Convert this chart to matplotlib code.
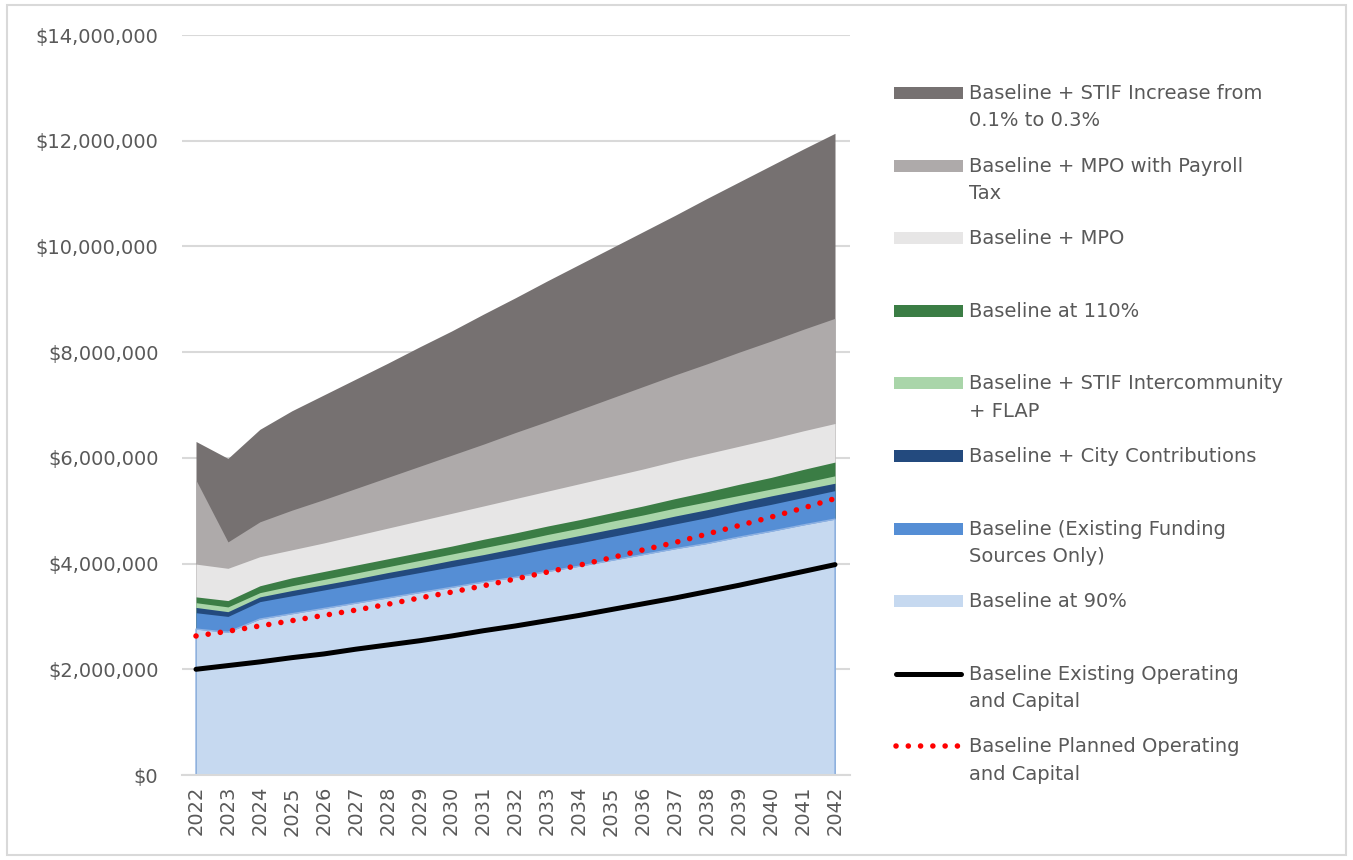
import numpy as np
import matplotlib.pyplot as plt
from matplotlib.patches import Rectangle
from matplotlib.ticker import FuncFormatter, MultipleLocator

# ------------------------------------------------------------
# Funding scenarios, annual totals in $ millions
# ------------------------------------------------------------
years = list(range(2022, 2043))

stif_increase = [6.31, 5.99, 6.54, 6.89, 7.19, 7.49, 7.79, 8.10, 8.40, 8.72, 9.03,
                 9.35, 9.66, 9.97, 10.28, 10.59, 10.91, 11.22, 11.53, 11.84, 12.14]
mpo_payroll = [5.58, 4.41, 4.79, 5.01, 5.21, 5.42, 5.63, 5.84, 6.05, 6.26, 6.48,
               6.69, 6.91, 7.13, 7.35, 7.57, 7.78, 8.00, 8.21, 8.43, 8.64]
mpo = [3.99, 3.91, 4.13, 4.26, 4.39, 4.53, 4.67, 4.81, 4.95, 5.09, 5.23,
       5.37, 5.51, 5.65, 5.79, 5.94, 6.08, 6.22, 6.36, 6.51, 6.65]
baseline_110 = [3.37, 3.30, 3.58, 3.73, 3.85, 3.97, 4.09, 4.21, 4.33, 4.46, 4.58,
                4.71, 4.83, 4.96, 5.09, 5.23, 5.36, 5.50, 5.63, 5.78, 5.92]
stif_interc = [3.26, 3.18, 3.45, 3.58, 3.70, 3.82, 3.94, 4.06, 4.18, 4.30, 4.42,
               4.55, 4.67, 4.80, 4.92, 5.05, 5.17, 5.29, 5.41, 5.53, 5.66]
city = [3.17, 3.09, 3.37, 3.49, 3.60, 3.71, 3.83, 3.94, 4.06, 4.17, 4.29,
        4.41, 4.53, 4.65, 4.77, 4.90, 5.02, 5.15, 5.28, 5.40, 5.52]
baseline = [3.07, 3.00, 3.28, 3.39, 3.50, 3.61, 3.72, 3.83, 3.94, 4.05, 4.16,
            4.28, 4.39, 4.51, 4.63, 4.75, 4.87, 5.00, 5.12, 5.25, 5.38]
baseline_90 = [2.76, 2.70, 2.95, 3.05, 3.15, 3.25, 3.35, 3.45, 3.55, 3.65, 3.74,
               3.85, 3.95, 4.06, 4.17, 4.28, 4.38, 4.50, 4.61, 4.73, 4.84]

existing_oc = [2.00, 2.07, 2.14, 2.22, 2.29, 2.38, 2.46, 2.54, 2.63, 2.73, 2.82,
               2.92, 3.02, 3.13, 3.24, 3.35, 3.47, 3.59, 3.72, 3.85, 3.98]
planned_oc = [2.63, 2.72, 2.82, 2.92, 3.02, 3.12, 3.23, 3.35, 3.46, 3.58, 3.71,
              3.84, 3.97, 4.11, 4.26, 4.40, 4.56, 4.72, 4.88, 5.05, 5.23]

area_labels = [
    "Baseline + STIF Increase from\n0.1% to 0.3%",
    "Baseline + MPO with Payroll\nTax",
    "Baseline + MPO",
    "Baseline at 110%",
    "Baseline + STIF Intercommunity\n+ FLAP",
    "Baseline + City Contributions",
    "Baseline (Existing Funding\nSources Only)",
    "Baseline at 90%",
]
area_series = [stif_increase, mpo_payroll, mpo, baseline_110,
               stif_interc, city, baseline, baseline_90]
area_colors = ["#767171", "#AEAAAA", "#E7E6E6", "#3B7D45",
               "#A9D5A9", "#234A7E", "#558ED5", "#C6D9F0"]
line_labels = ["Baseline Existing Operating\nand Capital",
               "Baseline Planned Operating\nand Capital"]

TEXT = "#595959"
GRID = "#D9D9D9"
FS = 14
plt.rcParams['font.family'] = ['DejaVu Sans']

W, H = 1353, 860
fig = plt.figure(figsize=(W / 100, H / 100), dpi=100)
ax = fig.add_axes([182 / W, 1 - 775 / H, (850 - 182) / W, (775 - 35) / H])

x = np.array(years)
for vals, col in zip(area_series, area_colors):
    ax.fill_between(x, 0, np.array(vals) * 1e6, color=col, lw=0, zorder=2)
# thin outline on the lowest band
ax.fill_between(x, 0, np.array(baseline_90) * 1e6, facecolor="none",
                edgecolor="#8FB2E2", lw=1.0, zorder=2.1)

ax.plot(x, np.array(existing_oc) * 1e6, color="black", lw=3.6,
        solid_capstyle="round", zorder=4)
ax.plot(x, np.array(planned_oc) * 1e6, color="#FF0000", lw=4.0,
        linestyle=(0, (0.01, 2.2)), dash_capstyle="round", zorder=5)

ax.set_xlim(2022 - 14 / 31.95, 2042 + 15 / 31.95)
ax.set_ylim(0, 14e6)
ax.yaxis.set_major_locator(MultipleLocator(2e6))
ax.yaxis.set_major_formatter(FuncFormatter(lambda v, p: f"${v:,.0f}"))
ax.set_xticks(years)
ax.set_xticklabels([str(y) for y in years], rotation=90)
ax.grid(axis="y", color=GRID, lw=1.5, zorder=0)
ax.set_axisbelow(True)
for s in ["top", "right", "left"]:
    ax.spines[s].set_visible(False)
ax.spines["bottom"].set_color(GRID)
ax.spines["bottom"].set_linewidth(1.5)
ax.tick_params(axis="both", length=0, labelsize=FS, labelcolor=TEXT)
ax.tick_params(axis="y", pad=17)
ax.tick_params(axis="x", pad=8)

# ------------------------------------------------------------
# Legend, laid out in pixel space on an overlay axes
# ------------------------------------------------------------
lg = fig.add_axes([0, 0, 1, 1], facecolor="none")
lg.set_xlim(0, W)
lg.set_ylim(H, 0)
lg.axis("off")

# chart border
lg.add_patch(Rectangle((7, 5), W - 14, H - 10, facecolor="none",
                       edgecolor=GRID, lw=1.5))

step = 72.6
y0 = 93
for i, (lab, col) in enumerate(zip(area_labels, area_colors)):
    yy = y0 + i * step
    lg.add_patch(Rectangle((894, yy - 6), 69, 12, facecolor=col, lw=0))
    lg.text(969, yy - 9, lab, color=TEXT, fontsize=FS, va="top",
            ha="left", linespacing=1.55)
for j, lab in enumerate(line_labels):
    yy = y0 + (8 + j) * step
    if j == 0:
        lg.plot([896, 961], [yy, yy], color="black", lw=3.6,
                solid_capstyle="round")
    else:
        lg.plot([896, 961], [yy, yy], color="#FF0000", lw=4.0,
                linestyle=(0, (0.01, 2.2)), dash_capstyle="round")
    lg.text(969, yy - 9, lab, color=TEXT, fontsize=FS, va="top",
            ha="left", linespacing=1.55)

fig.savefig("out.png", dpi=100)
